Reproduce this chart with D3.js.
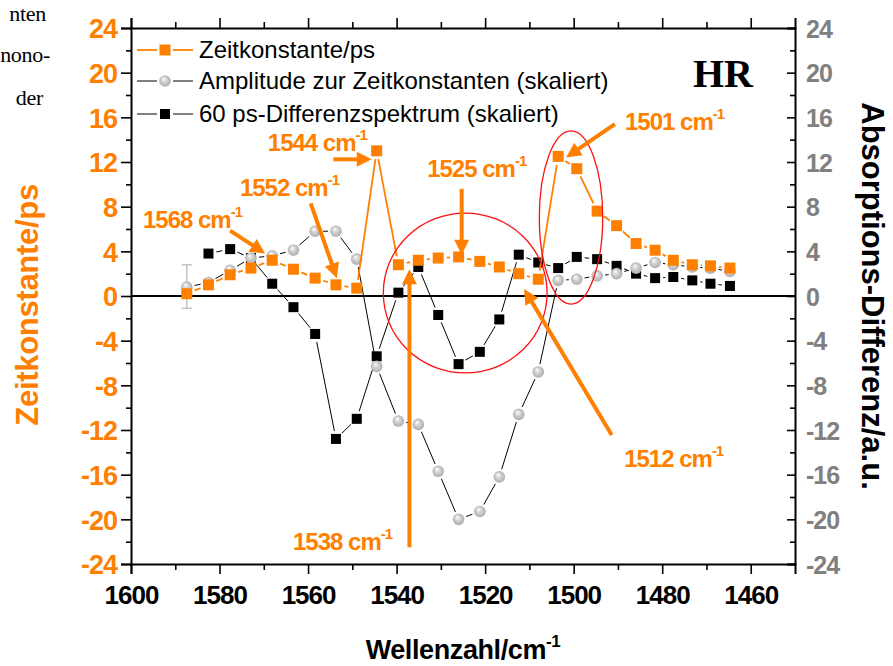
<!DOCTYPE html>
<html>
<head>
<meta charset="utf-8">
<script src="https://cdn.jsdelivr.net/npm/d3@7"></script>
<style>
  body { margin: 0; background: #fff; }
  svg { display: block; }
  text { font-family: "Liberation Sans", Arial, sans-serif; }
</style>
</head>
<body>
<svg id="chart" width="893" height="666"></svg>
<script>
// wavenumbers of the measured points (cm-1)
var wavenumber = [1587.4, 1582.5, 1577.6, 1572.9, 1568.1, 1563.3, 1558.4, 1553.7, 1549.0, 1544.5,
                  1539.6, 1535.1, 1530.6, 1526.0, 1521.2, 1516.8, 1512.4, 1508.0, 1503.5, 1499.3,
                  1494.7, 1490.3, 1485.9, 1481.6, 1477.5, 1473.2, 1469.1, 1464.7];
var zeitkonstante = [0.2, 1.0, 1.9, 2.5, 3.2, 2.4, 1.6, 1.0, 0.7, 13.0,
                     2.8, 3.2, 3.4, 3.5, 3.1, 2.6, 2.0, 1.5, 12.5, 11.4,
                     7.6, 6.3, 4.7, 4.1, 3.2, 2.8, 2.7, 2.5];
var amplitude = [0.8, 1.2, 2.3, 3.4, 3.6, 4.1, 5.8, 5.8, 3.3, -6.3,
                 -11.2, -11.5, -15.7, -20.0, -19.3, -16.2, -10.6, -6.8, 1.4, 1.5,
                 1.8, 2.0, 2.5, 3.0, 2.8, 2.6, 2.5, 2.2];
var differenz = [null, 3.8, 4.2, 3.4, 1.1, -1.0, -3.4, -12.8, -11.0, -5.4,
                 0.3, 2.6, -1.7, -6.1, -5.0, -2.1, 3.7, 3.0, 2.5, 3.5,
                 3.3, 2.7, 2.0, 1.6, 1.7, 1.4, 1.1, 0.9];
var amplitudeError = [{ wn: 1587.4, low: -1.1, high: 2.8 }];

var xTicks = [1600, 1580, 1560, 1540, 1520, 1500, 1480, 1460];
var yTicks = [-24, -20, -16, -12, -8, -4, 0, 4, 8, 12, 16, 20, 24];
var legendLabels = ["Zeitkonstante/ps", "Amplitude zur Zeitkonstanten (skaliert)", "60 ps-Differenzspektrum (skaliert)"];

// annotations in data units [wavenumber, value]
var bandLabels = [
  { text: "1568 cm", at: [1597.3, 6.1],   from: [1577.6, 5.85],  to: [1569.7, 3.8] },
  { text: "1552 cm", at: [1575.4, 9.0],   from: [1559.4, 8.3],   to: [1553.5, 1.6] },
  { text: "1544 cm", at: [1569.1, 13.0],  from: [1554.3, 12.24], to: [1545.6, 12.24] },
  { text: "1525 cm", at: [1533.1, 10.66], from: [1525.3, 9.6],   to: [1525.3, 3.7] },
  { text: "1501 cm", at: [1488.4, 14.87], from: [1490.7, 15.4],  to: [1501.7, 12.4] },
  { text: "1512 cm", at: [1488.6, -15.3], from: [1491.4, -12.45], to: [1511.2, 0.63] },
  { text: "1538 cm", at: [1563.4, -22.75], from: [1537.1, -22.5], to: [1537.1, 2.4] }
];
var ellipses = [
  { c: [1524.5, 0.27], rx: 18.5, ry: 7.16 },
  { c: [1500.6, 7.03], rx: 7.16, ry: 7.75 }
];

var orange = "#ff8000";
var svg = d3.select("#chart");
var x = d3.scaleLinear().domain([1600, 1450]).range([131, 795]);
var y = d3.scaleLinear().domain([-24, 24]).range([564, 28]);

var defs = svg.append("defs");
var grad = defs.append("radialGradient").attr("id", "ball").attr("cx", "50%").attr("cy", "50%").attr("r", "55%").attr("fx", "38%").attr("fy", "30%");
grad.append("stop").attr("offset", "0%").attr("stop-color", "#ffffff");
grad.append("stop").attr("offset", "45%").attr("stop-color", "#d0d0d0");
grad.append("stop").attr("offset", "100%").attr("stop-color", "#a9a9a9");

// stray text of the surrounding page
var serif = "'Liberation Serif', 'Times New Roman', serif";
[["nten", 46, 21], ["nono-", 50, 62], ["der", 43, 105]].forEach(function(p) {
  svg.append("text").attr("x", p[1]).attr("y", p[2]).attr("text-anchor", "end")
    .style("font-family", serif).style("font-size", "22px").attr("letter-spacing", "-0.3").text(p[0]);
});

// axes
var xAxisB = d3.axisBottom(x).tickValues(xTicks).tickSize(10).tickFormat(d3.format("d"));
var xAxisT = d3.axisTop(x).tickValues(xTicks).tickSize(10).tickFormat("");
var yAxisL = d3.axisLeft(y).tickValues(yTicks).tickSize(10).tickFormat(function(d) { return String(d); });
var yAxisR = d3.axisRight(y).tickValues(yTicks).tickSize(-8).tickFormat(function(d) { return String(d); });

function minor(g, axis, vals, size) {
  g.append("g").call(axis.tickValues(vals).tickSize(size).tickFormat("")).select(".domain").remove();
}
var xMinor = d3.range(1590, 1450, -20);
var yMinor = d3.range(-22, 24, 4);

var gx = svg.append("g").attr("transform", "translate(0," + y(-24) + ")").call(xAxisB);
minor(gx, d3.axisBottom(x), xMinor, 6);
var gxt = svg.append("g").attr("transform", "translate(0," + y(24) + ")").call(xAxisT);
minor(gxt, d3.axisTop(x), xMinor, 6);
var gyl = svg.append("g").attr("transform", "translate(" + x(1600) + ",0)").call(yAxisL);
minor(gyl, d3.axisLeft(y), yMinor, 5);
var gyr = svg.append("g").attr("transform", "translate(" + x(1450) + ",0)").call(yAxisR);
minor(gyr, d3.axisRight(y), yMinor, -5);

svg.selectAll(".domain").attr("stroke-width", 2).attr("stroke", "#000");
svg.selectAll(".tick line").attr("stroke-width", 1.6).attr("stroke", "#000");
gx.selectAll(".tick text").attr("dy", "1.05em").style("font-size", "26px").style("font-weight", "bold").attr("fill", "#000").attr("letter-spacing", "-1");
gyl.selectAll(".tick text").attr("x", -14).attr("dy", "0.36em").style("font-size", "27px").style("font-weight", "bold").attr("fill", orange).attr("letter-spacing", "-1");
gyr.selectAll(".tick text").attr("x", 11).attr("dy", "0.36em").style("font-size", "25px").style("font-weight", "bold").attr("fill", "#808080").attr("letter-spacing", "-1");

// zero line
svg.append("line").attr("x1", x(1600)).attr("x2", x(1450)).attr("y1", y(0)).attr("y2", y(0)).attr("stroke", "#000").attr("stroke-width", 2);

// axis titles
svg.append("text").attr("transform", "translate(38," + y(-0.8) + ") rotate(-90)").attr("text-anchor", "middle")
  .style("font-size", "31px").style("font-weight", "bold").attr("fill", orange).attr("letter-spacing", "-0.3").text("Zeitkonstante/ps");
svg.append("text").attr("transform", "translate(862," + y(0) + ") rotate(90)").attr("text-anchor", "middle")
  .style("font-size", "31px").style("font-weight", "bold").attr("fill", "#000").attr("letter-spacing", "0").text("Absorptions-Differenz/a.u.");
var xt = svg.append("text").attr("x", 463).attr("y", 659).attr("text-anchor", "middle")
  .style("font-size", "27px").style("font-weight", "bold").attr("fill", "#000").attr("letter-spacing", "-0.4");
xt.append("tspan").text("Wellenzahl/cm");
xt.append("tspan").attr("dy", -12).style("font-size", "17px").text("-1");

// series
function points(vals) {
  var pts = [];
  wavenumber.forEach(function(w, i) { if (vals[i] != null) pts.push([x(w), y(vals[i])]); });
  return pts;
}
function gapLines(g, pts, gap, color, width) {
  for (var i = 1; i < pts.length; i++) {
    var a = pts[i - 1], b = pts[i];
    var dx = b[0] - a[0], dy = b[1] - a[1], L = Math.sqrt(dx * dx + dy * dy);
    if (L <= 2 * gap) continue;
    var ux = dx / L, uy = dy / L;
    g.append("line").attr("x1", a[0] + ux * gap).attr("y1", a[1] + uy * gap)
      .attr("x2", b[0] - ux * gap).attr("y2", b[1] - uy * gap)
      .attr("stroke", color).attr("stroke-width", width);
  }
}

var plot = svg.append("g");

// 60 ps difference spectrum
var pd = points(differenz);
gapLines(plot, pd, 8, "#000", 1);
plot.selectAll(".sq-black").data(pd).enter().append("rect")
  .attr("x", function(d) { return d[0] - 5; }).attr("y", function(d) { return d[1] - 5; })
  .attr("width", 10).attr("height", 10).attr("fill", "#000");

// amplitude
var pa = points(amplitude);
plot.selectAll(".err").data(amplitudeError).enter().append("g").each(function(d) {
  var g = d3.select(this), cx = x(d.wn);
  g.append("line").attr("x1", cx).attr("x2", cx).attr("y1", y(d.low)).attr("y2", y(d.high)).attr("stroke", "#c4c4c4").attr("stroke-width", 1.5);
  g.append("line").attr("x1", cx - 5).attr("x2", cx + 5).attr("y1", y(d.low)).attr("y2", y(d.low)).attr("stroke", "#c4c4c4").attr("stroke-width", 1.5);
  g.append("line").attr("x1", cx - 5).attr("x2", cx + 5).attr("y1", y(d.high)).attr("y2", y(d.high)).attr("stroke", "#c4c4c4").attr("stroke-width", 1.5);
});
gapLines(plot, pa, 8, "#000", 1);
plot.selectAll(".ball").data(pa).enter().append("circle")
  .attr("cx", function(d) { return d[0]; }).attr("cy", function(d) { return d[1]; })
  .attr("r", 5.8).attr("fill", "url(#ball)");

// time constant
var po = points(zeitkonstante);
gapLines(plot, po, 8.5, orange, 1.8);
plot.selectAll(".sq-orange").data(po).enter().append("rect")
  .attr("x", function(d) { return d[0] - 5.5; }).attr("y", function(d) { return d[1] - 5.5; })
  .attr("width", 11).attr("height", 11).attr("fill", orange);

// red ellipses
svg.selectAll(".ring").data(ellipses).enter().append("ellipse")
  .attr("cx", function(d) { return x(d.c[0]); }).attr("cy", function(d) { return y(d.c[1]); })
  .attr("rx", function(d) { return Math.abs(x(d.c[0] + d.rx) - x(d.c[0])); })
  .attr("ry", function(d) { return Math.abs(y(d.c[1] + d.ry) - y(d.c[1])); })
  .attr("fill", "none").attr("stroke", "#ff1010").attr("stroke-width", 1.3);

// arrows and band labels
var ann = svg.append("g");
bandLabels.forEach(function(b) {
  var x1 = x(b.from[0]), y1 = y(b.from[1]), x2 = x(b.to[0]), y2 = y(b.to[1]);
  var dx = x2 - x1, dy = y2 - y1, L = Math.sqrt(dx * dx + dy * dy), ux = dx / L, uy = dy / L;
  var hl = 15, hw = 7.5, bx = x2 - ux * hl, by = y2 - uy * hl;
  ann.append("line").attr("x1", x1).attr("y1", y1).attr("x2", bx + ux * 2).attr("y2", by + uy * 2)
    .attr("stroke", orange).attr("stroke-width", 4);
  ann.append("path").attr("d", "M" + x2 + "," + y2 + "L" + (bx - uy * hw) + "," + (by + ux * hw) + "L" + (bx + uy * hw) + "," + (by - ux * hw) + "Z")
    .attr("fill", orange);
  var t = ann.append("text").attr("x", x(b.at[0])).attr("y", y(b.at[1]))
    .style("font-size", "24px").style("font-weight", "bold").attr("fill", orange).attr("letter-spacing", "-1");
  t.append("tspan").text(b.text);
  t.append("tspan").attr("dy", -11).style("font-size", "15px").text("-1");
});

// HR tag
svg.append("text").attr("x", 693).attr("y", 87).style("font-family", serif)
  .style("font-size", "40px").style("font-weight", "bold").text("HR");

// legend
var legend = svg.append("g");
var rowY = [50, 81, 114];
legendLabels.forEach(function(lab, i) {
  var g = legend.append("g").attr("transform", "translate(0," + rowY[i] + ")");
  var col = i === 0 ? orange : "#000";
  var w = i === 0 ? 1.8 : 1;
  g.append("line").attr("x1", 137).attr("x2", 157).attr("stroke", col).attr("stroke-width", w);
  g.append("line").attr("x1", 173).attr("x2", 193).attr("stroke", col).attr("stroke-width", w);
  if (i === 0) g.append("rect").attr("x", 159.5).attr("y", -5.5).attr("width", 11).attr("height", 11).attr("fill", orange);
  if (i === 1) g.append("circle").attr("cx", 165).attr("cy", 0).attr("r", 5.8).attr("fill", "url(#ball)");
  if (i === 2) g.append("rect").attr("x", 160).attr("y", -5).attr("width", 10).attr("height", 10).attr("fill", "#000");
  g.append("text").attr("x", 199).attr("y", 8).style("font-size", "24px").attr("fill", "#000").text(lab);
});
</script>
</body>
</html>
